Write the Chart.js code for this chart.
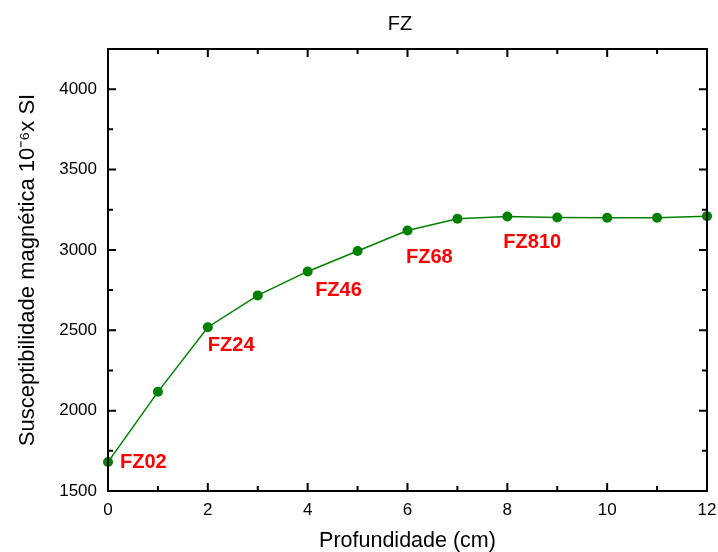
<!DOCTYPE html>
<html><head><meta charset="utf-8">
<script src="https://cdn.jsdelivr.net/npm/chart.js@4"></script>
<style>html,body{margin:0;padding:0;background:#fff}#wrap{width:718px;height:552px}</style>
</head><body><div id="wrap"><canvas id="c" width="718" height="552"></canvas></div>
<script>
const depths = [0,1,2,3,4,5,6,7,8,9,10,11,12];
const susceptibility = [1680,2117,2519,2717,2866,2993,3121,3194,3208,3202,3200,3200,3210];
const labelTexts = ['FZ02','FZ24','FZ46','FZ68','FZ810'];
const labelX = [0.24,2.0,4.15,5.97,7.92];
const labelY = [1680,2407,2748,2953,3047];
const xMajorTicks = [0,2,4,6,8,10,12];
const xMinorTicks = [1,3,5,7,9,11];
const yMajorTicks = [1500,2000,2500,3000,3500,4000];
const yMinorTicks = [1750,2250,2750,3250,3750,4250];

const FONT = 'Liberation Sans, Arial, sans-serif';

const framePlugin = {
  id:'frame',
  afterDraw(chart){
    const {ctx, chartArea:a, scales:{x,y}} = chart;
    ctx.save();
    ctx.strokeStyle='#000'; ctx.lineWidth=2;
    ctx.strokeRect(a.left,a.top,a.right-a.left,a.bottom-a.top);
    ctx.beginPath();
    const tick=(vals,len,isX)=>{
      vals.forEach(v=>{
        if(isX){const p=x.getPixelForValue(v);
          ctx.moveTo(p,a.bottom);ctx.lineTo(p,a.bottom-len);
          ctx.moveTo(p,a.top);ctx.lineTo(p,a.top+len);}
        else{const p=y.getPixelForValue(v);
          ctx.moveTo(a.left,p);ctx.lineTo(a.left+len,p);
          ctx.moveTo(a.right,p);ctx.lineTo(a.right-len,p);}
      });
    };
    tick(xMajorTicks,8,true);tick(xMinorTicks,5,true);
    tick(yMajorTicks,8,false);tick(yMinorTicks,5,false);
    ctx.stroke();
    ctx.fillStyle='#000';ctx.font='20px '+FONT;ctx.textAlign='center';ctx.textBaseline='middle';
    ctx.fillText('FZ',400,24);
    ctx.fillStyle='#ff0000';ctx.font='bold 20px '+FONT;ctx.textAlign='left';
    labelTexts.forEach((t,i)=>{
      ctx.fillText(t,x.getPixelForValue(labelX[i]),y.getPixelForValue(labelY[i]));
    });
    ctx.restore();
  }
};

new Chart(document.getElementById('c'),{
  type:'line',
  data:{labels:depths,datasets:[{
    data:depths.map((d,i)=>({x:d,y:susceptibility[i]})),
    borderColor:'#008000',backgroundColor:'#008000',borderWidth:1.5,
    pointRadius:5,pointHoverRadius:5,pointBorderWidth:0,tension:0,clip:false
  }]},
  options:{
    responsive:false,animation:false,
    layout:{padding:{left:0,right:11,top:49,bottom:0}},
    plugins:{legend:{display:false},tooltip:{enabled:false},title:{display:false}},
    scales:{
      x:{type:'linear',min:0,max:12,
        grid:{display:false,drawTicks:false},border:{display:false},
        afterBuildTicks(s){s.ticks=xMajorTicks.map(v=>({value:v}));},
        ticks:{color:'#000',font:{family:FONT,size:17},padding:9,callback:v=>String(v)},
        title:{display:true,text:'Profundidade (cm)',color:'#000',font:{family:FONT,size:21.5},padding:{top:6,bottom:-2}},
        afterFit(s){s.height=61;s.paddingLeft=0;s.paddingRight=0;}
      },
      y:{type:'linear',min:1500,max:4250,
        grid:{display:false,drawTicks:false},border:{display:false},
        afterBuildTicks(s){s.ticks=yMajorTicks.map(v=>({value:v}));},
        ticks:{color:'#000',font:{family:FONT,size:17},padding:11,callback:v=>String(v)},
        title:{display:true,text:'Susceptibilidade magnética 10⁻⁶x SI',color:'#000',font:{family:FONT,size:22},padding:{top:15}},
        afterFit(s){s.width=108;s.paddingTop=0;s.paddingBottom=0;}
      }
    }
  },
  plugins:[framePlugin]
});
</script></body></html>
